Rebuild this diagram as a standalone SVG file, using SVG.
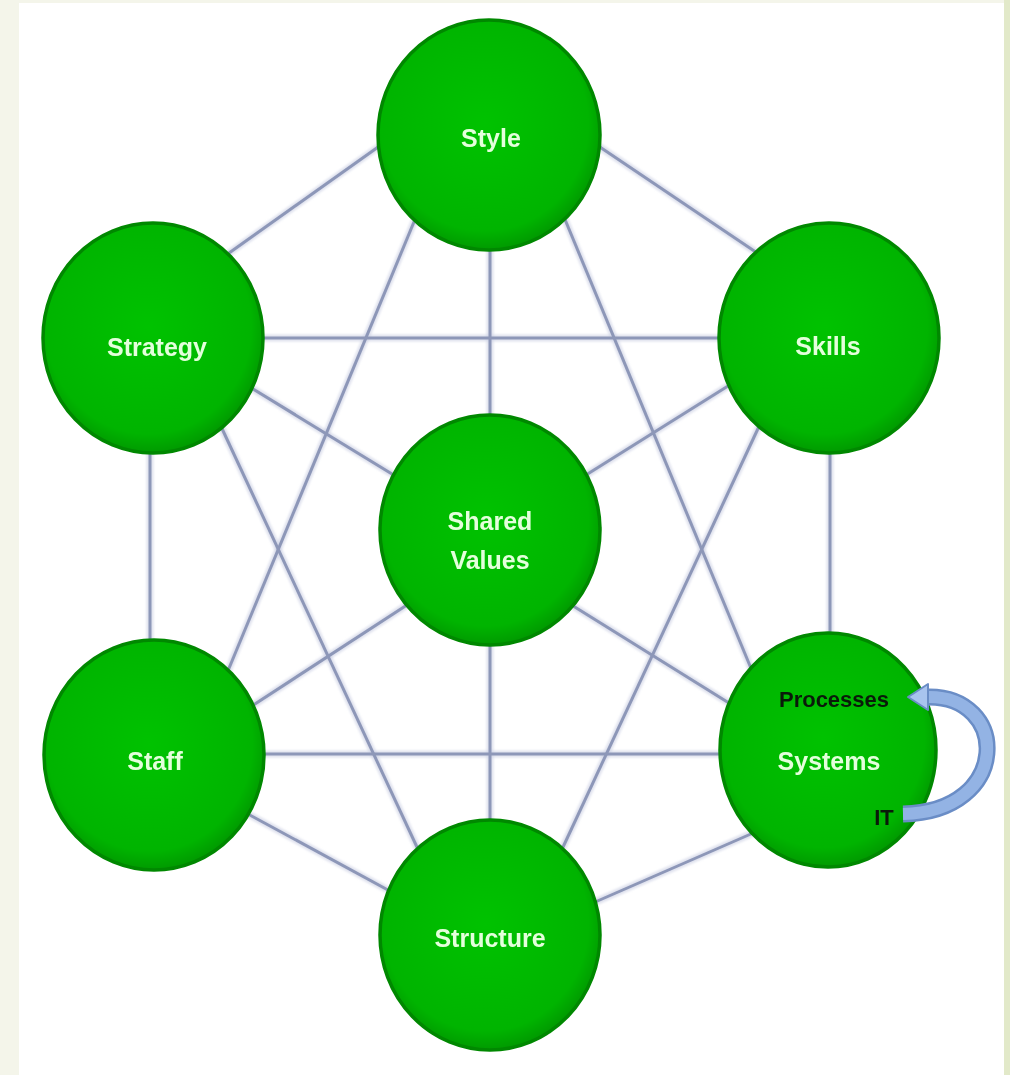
<svg xmlns="http://www.w3.org/2000/svg" width="1010" height="1075" viewBox="0 0 1010 1075">
  <defs>
    <radialGradient id="ballFill" cx="0.48" cy="0.45" r="0.55">
      <stop offset="0" stop-color="#00c200"/>
      <stop offset="0.85" stop-color="#00b400"/>
      <stop offset="1" stop-color="#009a00"/>
    </radialGradient>
    <filter id="soft" x="-10%" y="-10%" width="120%" height="120%">
      <feGaussianBlur stdDeviation="1.2"/>
    </filter>
  </defs>
  <style>
    .ball { fill: url(#ballFill); stroke: #008800; stroke-width: 3.5; }
    .link { stroke: #8d97b8; stroke-width: 3; fill: none; }
    .halo { stroke: #c9cfe2; stroke-width: 7; fill: none; opacity: 0.6; }
    .lbl { font-family: "Liberation Sans", Arial, sans-serif; font-weight: bold; font-size: 25px; fill: #e4ffdc; text-anchor: middle; }
    .dark { font-family: "Liberation Sans", Arial, sans-serif; font-weight: bold; font-size: 22px; fill: #0a1a0a; text-anchor: middle; }
  </style>

  <!-- page background with slide margins -->
  <rect x="0" y="0" width="1010" height="1075" fill="#ffffff"/>
  <rect x="0" y="0" width="19" height="1075" fill="#f4f5ea"/>
  <rect x="0" y="0" width="1010" height="3" fill="#f4f5ea"/>
  <rect x="1004" y="0" width="6" height="1075" fill="#e2e9c9"/>

  <!-- web of connectors between the seven elements (ends tucked under the circles) -->
  <g id="connectors">
    <g filter="url(#soft)">
      <line class="halo" x1="215" y1="263" x2="395" y2="135"/>
      <line class="halo" x1="585" y1="137" x2="775" y2="265"/>
      <line class="halo" x1="490" y1="240" x2="490" y2="425"/>
      <line class="halo" x1="421" y1="205" x2="220" y2="690"/>
      <line class="halo" x1="559" y1="205" x2="760" y2="690"/>
      <line class="halo" x1="255" y1="338" x2="725" y2="338"/>
      <line class="halo" x1="240" y1="381" x2="410" y2="485"/>
      <line class="halo" x1="150" y1="445" x2="150" y2="648"/>
      <line class="halo" x1="218" y1="420" x2="423" y2="860"/>
      <line class="halo" x1="736" y1="381" x2="570" y2="485"/>
      <line class="halo" x1="830" y1="445" x2="830" y2="642"/>
      <line class="halo" x1="762" y1="420" x2="557" y2="860"/>
      <line class="halo" x1="410" y1="603" x2="235" y2="717"/>
      <line class="halo" x1="570" y1="604" x2="745" y2="713"/>
      <line class="halo" x1="490" y1="635" x2="490" y2="830"/>
      <line class="halo" x1="255" y1="754" x2="728" y2="754"/>
      <line class="halo" x1="235" y1="807" x2="410" y2="902"/>
      <line class="halo" x1="760" y1="830" x2="570" y2="913"/>
    </g>
    <line class="link" x1="215" y1="263" x2="395" y2="135"/>
    <line class="link" x1="585" y1="137" x2="775" y2="265"/>
    <line class="link" x1="490" y1="240" x2="490" y2="425"/>
    <line class="link" x1="421" y1="205" x2="220" y2="690"/>
    <line class="link" x1="559" y1="205" x2="760" y2="690"/>
    <line class="link" x1="255" y1="338" x2="725" y2="338"/>
    <line class="link" x1="240" y1="381" x2="410" y2="485"/>
    <line class="link" x1="150" y1="445" x2="150" y2="648"/>
    <line class="link" x1="218" y1="420" x2="423" y2="860"/>
    <line class="link" x1="736" y1="381" x2="570" y2="485"/>
    <line class="link" x1="830" y1="445" x2="830" y2="642"/>
    <line class="link" x1="762" y1="420" x2="557" y2="860"/>
    <line class="link" x1="410" y1="603" x2="235" y2="717"/>
    <line class="link" x1="570" y1="604" x2="745" y2="713"/>
    <line class="link" x1="490" y1="635" x2="490" y2="830"/>
    <line class="link" x1="255" y1="754" x2="728" y2="754"/>
    <line class="link" x1="235" y1="807" x2="410" y2="902"/>
    <line class="link" x1="760" y1="830" x2="570" y2="913"/>
  </g>

  <g id="style">
    <ellipse class="ball" cx="489" cy="135" rx="111" ry="115"/>
    <text class="lbl" x="491" y="147">Style</text>
  </g>

  <g id="strategy">
    <ellipse class="ball" cx="153" cy="338" rx="110" ry="115"/>
    <text class="lbl" x="157" y="356">Strategy</text>
  </g>

  <g id="skills">
    <ellipse class="ball" cx="829" cy="338" rx="110" ry="115"/>
    <text class="lbl" x="828" y="355">Skills</text>
  </g>

  <g id="shared-values">
    <ellipse class="ball" cx="490" cy="530" rx="110" ry="115"/>
    <text class="lbl" x="490" y="530">Shared</text>
    <text class="lbl" x="490" y="569">Values</text>
  </g>

  <g id="staff">
    <ellipse class="ball" cx="154" cy="755" rx="110" ry="115"/>
    <text class="lbl" x="155" y="770">Staff</text>
  </g>

  <g id="systems">
    <ellipse class="ball" cx="828" cy="750" rx="108" ry="117"/>
    <text class="dark" x="834" y="707">Processes</text>
    <text class="lbl" x="829" y="770">Systems</text>
    <text class="dark" x="884" y="825">IT</text>
  </g>

  <g id="structure">
    <ellipse class="ball" cx="490" cy="935" rx="110" ry="115"/>
    <text class="lbl" x="490" y="947">Structure</text>
  </g>

  <!-- curved cycle arrow from IT back up to Processes -->
  <g id="cycle-arrow">
    <path d="M 903 814 C 1012 812, 1010 694, 926 697" fill="none" stroke="#6a8dc6" stroke-width="17" stroke-linecap="butt"/>
    <path d="M 903 814 C 1012 812, 1010 694, 926 697" fill="none" stroke="#93b3e4" stroke-width="12" stroke-linecap="butt"/>
    <polygon points="908,697 928,684 928,710" fill="#a8c4ee" stroke="#6a8dc6" stroke-width="2" stroke-linejoin="round"/>
  </g>
</svg>
